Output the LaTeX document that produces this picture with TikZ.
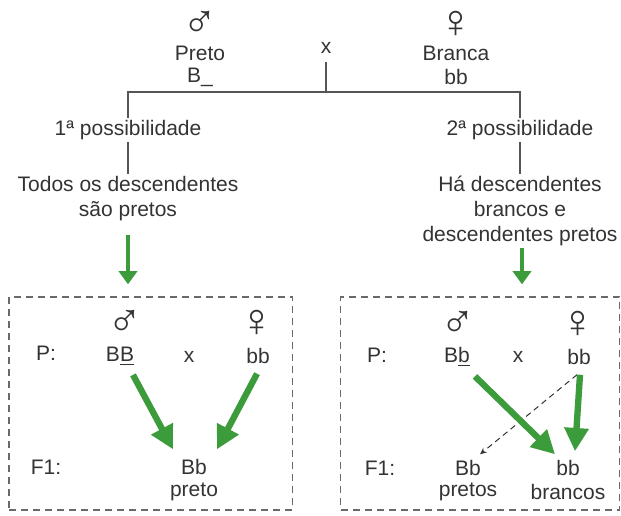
\documentclass[tikz,border=0pt]{standalone}
\usepackage{fontspec}
\setmainfont{Liberation Sans}
\usetikzlibrary{arrows.meta, calc, positioning}
\definecolor{Txt}   {HTML}{333333}
\definecolor{LGray} {HTML}{555555}
\definecolor{BoxG}  {HTML}{6A6A6A}
\definecolor{Verde} {HTML}{3C9C3C}
\tikzset{
  txt/.style={
    text=Txt, font=\fontsize{12.6}{15.2}\selectfont,
    align=center, inner sep=1pt,
  },
  sexo/.style={
    text=Txt, font=\fontsize{28}{28}\selectfont, inner sep=0pt,
    text height=12pt, text depth=0pt, anchor=base,
  },
  ligacao/.style={
    draw=LGray, line width=0.8pt,
  },
  caixa/.style={
    draw=BoxG, dash pattern=on 4.2pt off 3pt, line width=0.8pt,
    rectangle, inner sep=0pt,
  },
  seta/.style={
    -{Triangle[length=8pt,width=11pt]},
    line width=2.4pt, draw=Verde, color=Verde,
  },
  setag/.style={
    -{Triangle[length=14pt,width=14pt]},
    line width=3.8pt, draw=Verde, color=Verde,
  },
  setad/.style={
    -{Stealth[length=4pt,width=3.5pt]},
    draw=Txt, line width=0.6pt, dash pattern=on 3.5pt off 2.5pt,
  },
}
\begin{document}
\begin{tikzpicture}[x=0.6pt,y=-0.6pt]
  \useasboundingbox (0,0) rectangle (621,515);

  % cruzamento inicial
  \node[sexo] (machoT) at (200,37) {♂};
  \node[txt]  (preto)  at (200,53) {Preto};
  \node[txt]  (bT)     at (200,77) {B\_};
  \node[txt]  (xT)     at (326,48) {x};
  \node[sexo] (femeaT) at (456,37) {♀};
  \node[txt]  (branca) at (456,53) {Branca};
  \node[txt]  (bbT)    at (456,77) {bb};

  \node[txt] (poss1) at (128,130) {1ª possibilidade};
  \node[txt] (poss2) at (520,130) {2ª possibilidade};
  \node[txt] (desc1) at (128,198.5) {Todos os descendentes\\são pretos};
  \node[txt] (desc2) at (520,211) {Há descendentes\\brancos e\\descendentes pretos};

  \coordinate (juncao) at (326,92);
  \draw[ligacao] ($(xT.south)+(0,6)$) -- (juncao);
  \draw[ligacao] (poss1.north) |- (juncao) -| (poss2.north);
  \draw[ligacao] (poss1.south) -- (desc1.north);
  \draw[ligacao] (poss2.south) -- (desc2.north);

  % caixas
  \node[caixa, minimum width=170pt, minimum height=127.8pt] (caixa1) at (150.5,403.5) {};
  \node[caixa, minimum width=167.4pt, minimum height=127.8pt] (caixa2) at (480,403.5) {};
  \draw[seta] ($(desc1.south)+(0,12)$) -- ($(caixa1.north)+(-22.5,-12)$);
  \draw[seta] ($(desc2.south)+(2,0)$) -- ($(caixa2.north)+(42,-12)$);

  % 1a possibilidade
  \node[txt]  (pL)     at (46,353)  {P:};
  \node[sexo] (machoL) at (125,336) {♂};
  \node[txt]  (BBl)    at (120,356) {B\underline{B}};
  \node[txt]  (xL)     at (189,357) {x};
  \node[sexo] (femeaL) at (257,336) {♀};
  \node[txt]  (bbl)    at (258,356) {bb};
  \node[txt]  (fL)     at (46,467)  {F1:};
  \node[txt]  (Bbl)    at (194,467) {Bb};
  \node[txt]  (pretoL) at (194,492) {preto};
  \draw[setag] ($(BBl.south)+(13,8)$) -- ($(Bbl.north)+(-21,-8)$);
  \draw[setag] ($(bbl.south)+(-1,8)$) -- ($(Bbl.north)+(23,-8)$);

  % 2a possibilidade
  \node[txt]  (pR)      at (377,355) {P:};
  \node[sexo] (machoR)  at (458,337) {♂};
  \node[txt]  (Bbr)     at (457,357) {B\underline{b}};
  \node[txt]  (xR)      at (518,357) {x};
  \node[sexo] (femeaR)  at (578,337) {♀};
  \node[txt]  (bbr)     at (579,357) {bb};
  \node[txt]  (fR)      at (380,468) {F1:};
  \node[txt]  (BbF)     at (468,468) {Bb};
  \node[txt]  (pretosR) at (468,492) {pretos};
  \node[txt]  (bbF)     at (568,468) {bb};
  \node[txt]  (brancR)  at (568,492) {brancos};
  \draw[setad] ($(bbr.south)+(-2,8)$) -- ($(BbF.north)+(12,-4)$);
  \draw[setag] ($(Bbr.south)+(18,8)$) -- ($(bbF.north)+(-13,-4)$);
  \draw[setag] ($(bbr.south)+(1,8)$) -- ($(bbF.north)+(7,-7)$);
\end{tikzpicture}
\end{document}
